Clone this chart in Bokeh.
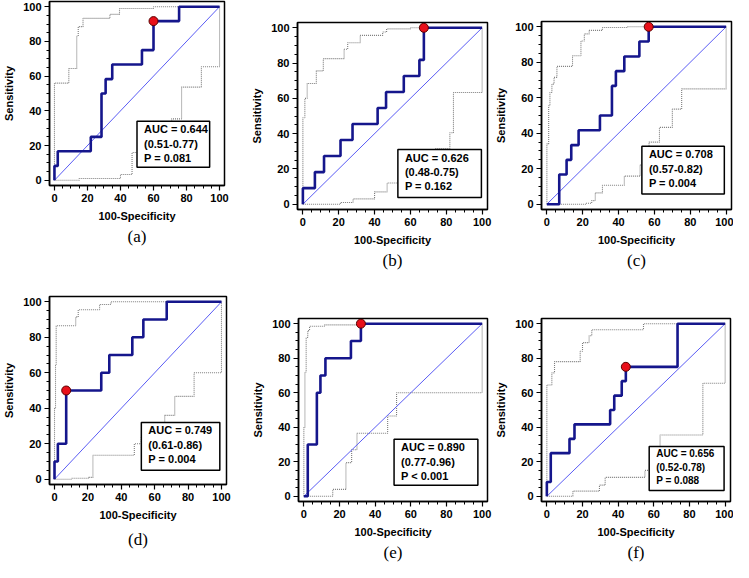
from bokeh.plotting import figure
from bokeh.layouts import row, column
from bokeh.models import BoxAnnotation, Label, Range1d, FixedTicker, Title
from bokeh.embed import file_html
from bokeh.resources import INLINE

# ---------------- data ----------------
panel_names = ["(a)", "(b)", "(c)", "(d)", "(e)", "(f)"]

roc_a_x = [0, 0, 2, 22, 28.5, 31, 35, 53, 60, 75.5, 100]
roc_a_y = [0, 8.3, 16.7, 25, 50, 58.3, 66.7, 75, 91.7, 100, 100]
up_a_x = [0, 0, 8.7, 13.5, 14.4, 17.3, 33.6, 39.4, 60, 100]
up_a_y = [0, 56, 64.4, 83, 88.5, 93.3, 95.6, 99, 100, 100]
lo_a_x = [0, 15, 40, 47, 71, 77, 89, 100]
lo_a_y = [0, 1, 3.3, 16, 35.4, 53.7, 65.4, 100]
cut_a = (60, 91.7)
stats_a = ["AUC = 0.644", "(0.51-0.77)", "P = 0.081"]

roc_b_x = [0, 0, 6.7, 11.8, 21, 27.7, 41.7, 46.4, 56.3, 65, 67.5, 100]
roc_b_y = [0, 9.1, 18.2, 27.3, 36.4, 45.5, 54.5, 63.6, 72.7, 81.8, 100, 100]
up_b_x = [0, 0, 1.1, 2.4, 7.5, 11.4, 23, 25, 32, 44.5, 46.7, 60, 100]
up_b_y = [0, 49, 60, 68.4, 75.6, 82.5, 87.8, 91.5, 95.7, 97.6, 99.4, 100, 100]
lo_b_x = [0, 21, 28, 40, 47, 55, 62, 74, 82, 84, 100]
lo_b_y = [0, 1, 3, 7, 12, 15, 24, 31.5, 40.5, 63.3, 100]
cut_b = (67.5, 100)
stats_b = ["AUC = 0.626", "(0.48-0.75)", "P = 0.162"]

roc_c_x = [0, 6.9, 11, 13.6, 17.7, 29.6, 36.3, 38.5, 43.2, 51.6, 56.8, 100]
roc_c_y = [0, 16.7, 25, 33.3, 41.7, 50, 66.7, 75, 83.3, 91.7, 100, 100]
up_c_x = [0, 0, 1, 1.7, 2.8, 4, 5.6, 14.3, 19, 20.9, 23.6, 31, 45, 100]
up_c_y = [0, 34, 55.5, 63, 67.7, 71.5, 77.7, 83.7, 92, 96, 98, 99.6, 100, 100]
lo_c_x = [0, 21.8, 25, 27, 31, 43.2, 52, 57, 62.8, 70, 75.2, 100]
lo_c_y = [0, 0.5, 2, 6.4, 10.7, 15.8, 22, 35, 43.3, 53.6, 65, 100]
cut_c = (56.8, 100)
stats_c = ["AUC = 0.708", "(0.57-0.82)", "P = 0.004"]

roc_d_x = [0, 0, 2, 7, 28, 32.8, 46.6, 53.2, 67.2, 100]
roc_d_y = [0, 10, 20, 50, 60, 70, 80, 90, 100, 100]
up_d_x = [0, 0, 0.6, 1, 12.7, 14.2, 27, 33.8, 100]
up_d_y = [0, 40, 64, 86.5, 91.5, 95.5, 98.5, 100, 100]
lo_d_x = [0, 10, 20.5, 23, 47.8, 52, 60, 66, 72, 83.6, 100]
lo_d_y = [0, 0.5, 1, 13.5, 20, 24, 30, 36, 46.7, 60, 100]
cut_d = (7, 50)
stats_d = ["AUC = 0.749", "(0.61-0.86)", "P = 0.004"]

roc_e_x = [0, 2.2, 7.3, 9.3, 12.1, 26.4, 32, 100]
roc_e_y = [0, 30, 60, 70, 80, 90, 100, 100]
up_e_x = [0, 0, 0.6, 1.3, 2.2, 3.2, 11.5, 30, 100]
up_e_y = [0, 40, 72, 92, 96, 98.5, 99.3, 100, 100]
lo_e_x = [0, 16.2, 23.6, 26.8, 29.8, 47, 52, 100]
lo_e_y = [0, 4, 19.5, 27, 36.5, 46.5, 60, 100]
cut_e = (32, 100)
stats_e = ["AUC = 0.890", "(0.77-0.96)", "P < 0.001"]

roc_f_x = [0, 0, 2.2, 12.7, 15.5, 35.5, 37.8, 42, 44.3, 73.3, 100]
roc_f_y = [0, 8.3, 25, 33.3, 41.7, 50, 58.3, 66.7, 75, 100, 100]
up_f_x = [0, 0, 2.8, 4.3, 18.7, 20, 23.7, 25.2, 54.2, 100]
up_f_y = [0, 64.5, 71.5, 78, 84, 89, 93, 96.5, 100, 100]
lo_f_x = [0, 14.6, 29.5, 32.7, 55, 58, 63.5, 87.5, 100]
lo_f_y = [0, 3, 6.5, 11, 15, 20, 35.5, 65.5, 100]
cut_f = (44.3, 75)
stats_f = ["AUC = 0.656", "(0.52-0.78)", "P = 0.088"]

ticks = [0, 20, 40, 60, 80, 100]
diag = [0, 100]

# ---------------- layout / style ----------------
SANS = "Liberation Sans"
NAVY = "#15168c"
DIAG = "#5a5cf5"
GRAY = "#7c7c7c"

# (width, height, min_border l, r, t, b, box l, r, b, t, tag standoff, tag offset, stats font)
layouts = [
    (242, 272, 44, 18, 1, 87, 50, 94, 7.5, 34, 0, -18, "11px"),
    (250, 272, 55, 5, 22, 63, 53, 99.6, 3.8, 31, 1, -19, "11px"),
    (241, 272, 49, 2, 21, 63, 53, 99, 5.8, 32.6, 1, -22, "11px"),
    (242, 290, 40, 16, 24, 78, 52, 99, 5, 32, 8, -17, "11px"),
    (250, 290, 56, 5, 46, 57, 50.6, 97.6, 6.4, 33, 1, -17, "11px"),
    (241, 290, 49, 3, 46, 56, 57.4, 99.4, 3.4, 28.9, 1, -21, "10px"),
]

series = [
    (roc_a_x, roc_a_y, up_a_x, up_a_y, lo_a_x, lo_a_y, cut_a, stats_a),
    (roc_b_x, roc_b_y, up_b_x, up_b_y, lo_b_x, lo_b_y, cut_b, stats_b),
    (roc_c_x, roc_c_y, up_c_x, up_c_y, lo_c_x, lo_c_y, cut_c, stats_c),
    (roc_d_x, roc_d_y, up_d_x, up_d_y, lo_d_x, lo_d_y, cut_d, stats_d),
    (roc_e_x, roc_e_y, up_e_x, up_e_y, lo_e_x, lo_e_y, cut_e, stats_e),
    (roc_f_x, roc_f_y, up_f_x, up_f_y, lo_f_x, lo_f_y, cut_f, stats_f),
]


def make_panel(name, data, lay):
    rx, ry, ux, uy, lx, ly, cut, stats = data
    w, h, mbl, mbr, mbt, mbb, bl, br, bb, bt, tstand, toff, fsz = lay
    p = figure(width=w, height=h, output_backend="svg", toolbar_location=None,
               x_range=Range1d(-3, 103), y_range=Range1d(-3, 103),
               min_border_left=mbl, min_border_right=mbr,
               min_border_top=mbt, min_border_bottom=mbb)
    try:
        p.frame_align = False
    except Exception:
        pass
    p.grid.visible = False
    p.outline_line_color = "black"
    p.outline_line_width = 1.5
    p.background_fill_color = "white"
    p.border_fill_color = "white"
    for ax in (p.xaxis[0], p.yaxis[0]):
        ax.ticker = FixedTicker(ticks=ticks, minor_ticks=list(range(0, 101, 5)))
        ax.axis_line_color = "black"
        ax.axis_line_width = 1.5
        ax.major_tick_line_width = 1.2
        ax.minor_tick_line_width = 1
        ax.major_tick_out = 5
        ax.major_tick_in = 0
        ax.minor_tick_out = 3
        ax.minor_tick_in = 0
        ax.major_label_text_font = SANS
        ax.major_label_text_font_style = "bold"
        ax.major_label_text_font_size = "11px"
        ax.major_label_text_color = "black"
        ax.major_label_standoff = 3
        ax.axis_label_text_font = SANS
        ax.axis_label_text_font_style = "bold"
        ax.axis_label_text_font_size = "11px"
        ax.axis_label_text_color = "black"
        ax.axis_label_standoff = 5
    p.xaxis.axis_label = "100-Specificity"
    p.yaxis.axis_label = "Sensitivity"

    p.step(lx, ly, mode="after", line_color=GRAY, line_width=1.1, line_dash="1 1")
    p.step(ux, uy, mode="after", line_color=GRAY, line_width=1.1, line_dash="1 1")
    p.line(diag, diag, line_color=DIAG, line_width=1)
    p.step(rx, ry, mode="after", line_color=NAVY, line_width=2.6)
    p.scatter([cut[0]], [cut[1]], size=9, fill_color="#e8101a",
              line_color="#5a0000", line_width=1)

    box = BoxAnnotation(left=bl, right=br, bottom=bb, top=bt,
                        fill_color="white", fill_alpha=1.0,
                        line_color="black", line_width=1.5, line_alpha=1.0)
    p.add_layout(box)
    lab = Label(x=bl, y=bt, x_offset=7, y_offset=-2, text="\n".join(stats),
                text_font=SANS, text_font_style="bold", text_font_size=fsz,
                text_baseline="top", text_align="left", text_line_height=1.2,
                text_color="black")
    p.add_layout(lab)

    tag = Title(text=name, align="center", offset=toff, standoff=tstand,
                text_font="Liberation Serif", text_font_size="17px",
                text_font_style="normal", text_color="black")
    p.add_layout(tag, "below")
    return p


figs = [make_panel(n, d, l) for n, d, l in zip(panel_names, series, layouts)]
page = column(row(figs[0], figs[1], figs[2]), row(figs[3], figs[4], figs[5]))

with open("out.html", "w") as f:
    f.write(file_html(page, INLINE))
